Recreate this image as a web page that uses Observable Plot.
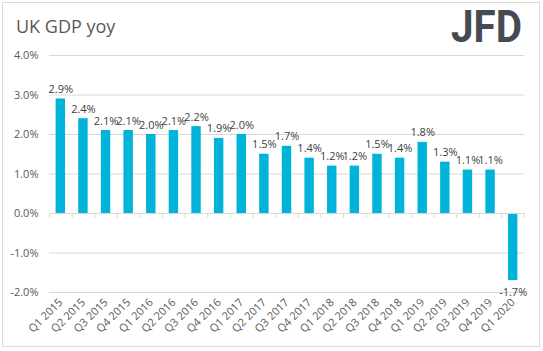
<!DOCTYPE html>
<html><head><meta charset="utf-8">
<script src="https://cdn.jsdelivr.net/npm/d3@7"></script>
<script src="https://cdn.jsdelivr.net/npm/@observablehq/plot@0.6"></script>
<style>
body{margin:0;background:#fff;}
#wrap{position:relative;width:543px;height:351px;}
#wrap svg{display:block;}
#overlay{position:absolute;left:0;top:0;pointer-events:none;}
</style></head>
<body>
<div id="wrap"></div>
<script>
const quarters = ["Q1 2015","Q2 2015","Q3 2015","Q4 2015","Q1 2016","Q2 2016","Q3 2016","Q4 2016","Q1 2017","Q2 2017","Q3 2017","Q4 2017","Q1 2018","Q2 2018","Q3 2018","Q4 2018","Q1 2019","Q2 2019","Q3 2019","Q4 2019","Q1 2020"];
const growth = [2.9,2.4,2.1,2.1,2.0,2.1,2.2,1.9,2.0,1.5,1.7,1.4,1.2,1.2,1.5,1.4,1.8,1.3,1.1,1.1,-1.7];
const yTicks = [-2,-1,0,1,2,3,4];
const title = "UK GDP yoy";
const brand = "JFD";

const data = quarters.map((q,i)=>({q, v: growth[i]}));
const W=543, H=351, mt=55, mb=59, ml=49, mr=19;
const bw = (W-ml-mr)/quarters.length;
const pxPerUnit = (H-mt-mb)/(yTicks.at(-1)-yTicks[0]);
const fmt = d => d.toFixed(1)+"%";

const chart = Plot.plot({
  width:W, height:H, marginTop:mt, marginBottom:mb, marginLeft:ml, marginRight:mr,
  style:{fontFamily:"Open Sans, sans-serif", fontSize:"11px", color:"#595959", background:"transparent"},
  x:{domain:quarters, padding:0, round:false, label:null},
  y:{domain:[yTicks[0], yTicks.at(-1)], label:null},
  marks:[
    Plot.ruleY(yTicks.filter(t=>t!==0), {stroke:"#d9d9d9", strokeOpacity:1}),
    Plot.barY(data,{x:"q", y:"v", fill:"#00B4D9", insetLeft:6.6, insetRight:6.6}),
    Plot.ruleY([0],{stroke:"#d9d9d9", strokeOpacity:1}),
    Plot.ruleX(quarters,{x:d=>d, dx:-bw/2, y1:0, y2:-5/pxPerUnit, stroke:"#d9d9d9", strokeOpacity:1}),
    Plot.ruleX([quarters.at(-1)],{x:d=>d, dx:bw/2, y1:0, y2:-5/pxPerUnit, stroke:"#d9d9d9", strokeOpacity:1}),
    Plot.text(data.filter(d=>d.v>=0),{x:"q", y:"v", text:d=>fmt(d.v), lineAnchor:"bottom", dy:-6, fill:"#404040"}),
    Plot.text(data.filter(d=>d.v<0),{x:"q", y:"v", text:d=>fmt(d.v), lineAnchor:"top", dy:8, fill:"#404040"}),
    Plot.axisY({ticks:yTicks, tickFormat:fmt, tickSize:0, tickPadding:11, fill:"#595959", label:null}),
    Plot.axisX({tickRotate:-45, tickSize:0, tickPadding:8, fill:"#595959", label:null})
  ]
});
const wrap = document.getElementById("wrap");
wrap.appendChild(chart);

const ns="http://www.w3.org/2000/svg";
const ov = document.createElementNS(ns,"svg");
ov.setAttribute("id","overlay");
ov.setAttribute("width",W); ov.setAttribute("height",H);
ov.innerHTML = `
<rect x="2.5" y="2.5" width="537" height="344" fill="none" stroke="#d9d9d9"/>
<text x="16" y="33" font-family="Open Sans, sans-serif" font-size="18" fill="#595959">${title}</text>
<text x="451" y="42" font-family="Roboto, sans-serif" font-weight="bold" font-size="44" fill="#464b53" textLength="71" lengthAdjust="spacingAndGlyphs">${brand}</text>`;
wrap.appendChild(ov);
</script>
</body></html>
